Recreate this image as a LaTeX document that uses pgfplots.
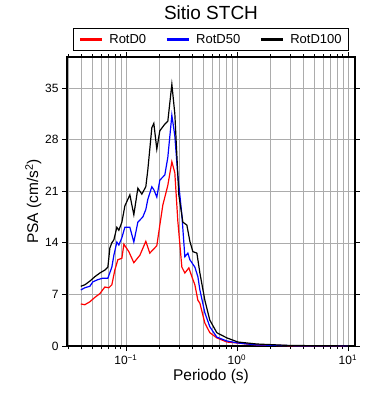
\documentclass[border=0pt]{standalone}
\usepackage{fontspec}
\setmainfont{Liberation Sans}
\usepackage{pgfplots}
\usepackage{pgfplotstable}
\pgfplotsset{compat=1.18}
\pgfplotstableread{
T v
0.0393 8.1
0.0427 8.3
0.0474 8.8
0.0526 9.4
0.0583 9.9
0.0647 10.3
0.0689 10.7
0.0718 13.3
0.0748 14.0
0.0780 14.4
0.0830 16.1
0.0865 15.7
0.0921 16.8
0.0980 19.0
0.1087 20.5
0.1180 17.8
0.1283 21.4
0.1393 20.6
0.1513 21.6
0.1578 23.9
0.1714 29.6
0.1787 30.2
0.1901 26.7
0.2024 29.2
0.2245 30.1
0.2389 30.5
0.2597 35.5
0.2762 31.5
0.3000 20.5
0.3264 16.8
0.3546 16.4
0.3774 14.2
0.4017 12.8
0.4365 12.6
0.4646 9.9
0.5152 6.2
0.5713 3.5
0.6604 1.8
0.8128 1.1
1.021 0.54
1.514 0.27
3.0 0.07
10 0.01
}\rotdhundred
\pgfplotstableread{
T v
0.0393 7.6
0.0427 7.9
0.0474 8.1
0.0504 8.7
0.0559 9.0
0.0621 9.2
0.0689 9.2
0.0748 10.7
0.0780 12.3
0.0830 14.1
0.0865 13.7
0.0921 14.7
0.0980 16.1
0.1087 16.1
0.1180 14.1
0.1283 16.8
0.1422 17.5
0.1513 18.5
0.1578 19.9
0.1714 21.6
0.1787 21.2
0.1901 20.2
0.2024 22.5
0.2245 23.2
0.2389 25.6
0.2597 31.3
0.2762 28.5
0.2938 23.2
0.3196 17.8
0.3401 12.1
0.3620 12.6
0.3774 11.7
0.4187 10.7
0.4457 9.4
0.4646 7.6
0.5152 4.5
0.5713 2.6
0.6604 1.2
0.8128 0.68
1.021 0.41
1.514 0.14
3.0 0.05
10 0.01
}\rotdfifty
\pgfplotstableread{
T v
0.0393 5.7
0.0427 5.6
0.0474 6.0
0.0526 6.6
0.0583 7.1
0.0647 8.0
0.0703 7.9
0.0748 8.3
0.0796 10.3
0.0847 11.7
0.0921 11.9
0.0960 13.8
0.1064 12.8
0.1180 11.3
0.1337 12.3
0.1513 14.2
0.1644 12.6
0.1901 13.6
0.2024 16.4
0.2153 19.1
0.2389 21.8
0.2597 25.0
0.2762 23.5
0.2938 17.0
0.3196 10.7
0.3401 9.9
0.3697 10.6
0.3935 9.4
0.4187 8.3
0.4457 6.2
0.4646 5.8
0.5152 3.1
0.5713 1.8
0.6604 1.1
0.8128 0.54
1.021 0.40
1.514 0.14
3.0 0.04
10 0.01
}\rotdzero
\begin{document}
\begin{tikzpicture}
\useasboundingbox (-67pt,-54pt) rectangle (323pt,346pt);
\begin{axis}[
  at={(0pt,0pt)}, anchor=south west,
  scale only axis, width=288pt, height=289pt,
  xmode=log, xmin=0.0295, xmax=11.6, ymin=0, ymax=39.2,
  ytick={0,7,14,21,28,35},
  xtick={0.1,1,10},
  xticklabels={10\textsuperscript{−1},10\textsuperscript{0},10\textsuperscript{1}},
  minor xtick={0.03,0.04,0.05,0.06,0.07,0.08,0.09,0.2,0.3,0.4,0.5,0.6,0.7,0.8,0.9,2,3,4,5,6,7,8,9},
  xmajorgrids, xminorgrids, ymajorgrids,
  grid style={gray!65, line width=0.5pt},
  minor grid style={gray!65, line width=0.5pt},
  tick align=outside, tick pos=both,
  major tick length=5pt, minor tick length=3pt,
  tick style={black, line width=0.6pt},
  axis line style={line width=1.1pt},
  /pgf/number format/assume math mode=true,
  ticklabel style={font=\fontsize{12}{14}\selectfont},
  title={Sitio STCH},
  title style={font=\fontsize{19}{22}\selectfont, anchor=base, at={(0.5,1)}, yshift=32pt},
  xlabel={Periodo (s)},
  ylabel={PSA (cm/s\textsuperscript{2})},
  label style={font=\fontsize{15.5}{18}\selectfont},
  xlabel style={yshift=2pt},
  ylabel style={yshift=-3pt},
  legend style={at={(0.5,1)}, anchor=south, yshift=6pt, legend columns=3,
    draw=black, line width=1pt, font=\fontsize{13}{15}\selectfont,
    inner xsep=5pt, inner ysep=3.5pt,
    /tikz/every odd column/.append style={column sep=4pt},
    /tikz/every even column/.append style={column sep=17pt}},
  legend image code/.code={\draw[#1, line width=3pt] (0pt,0pt) -- (22pt,0pt);},
]
\addplot[red, line width=1.2pt] table[x=T,y=v] {\rotdzero};
\addlegendentry{RotD0}
\addplot[blue, line width=1.2pt] table[x=T,y=v] {\rotdfifty};
\addlegendentry{RotD50}
\addplot[black, line width=1.2pt] table[x=T,y=v] {\rotdhundred};
\addlegendentry{RotD100}
\end{axis}
\end{tikzpicture}
\end{document}
